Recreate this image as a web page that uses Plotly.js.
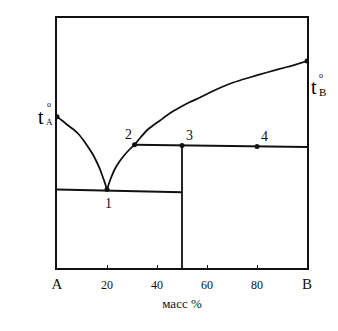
<!DOCTYPE html>
<html><head><meta charset="utf-8">
<script src="https://cdn.plot.ly/plotly-3.0.1.min.js"></script>
<style>html,body{margin:0;padding:0;background:#fff;}#c{width:338px;height:331px;}</style>
</head><body><div id="c"></div>
<script>
// Liquidus branch from t_A down to eutectic point 1
const liqA_x = [0, 2, 4.5, 6.5, 8.5, 10.5, 12.5, 14.3, 15.9, 17.3, 18.5, 19.3, 20];
const liqA_y = [60.5, 59, 57, 55.5, 53.7, 51.2, 48.3, 45.5, 42.4, 39.2, 35.9, 33.6, 31.4];
// Liquidus branch from point 1 through point 2 up to t_B
const liqB_x = [20, 21.5, 23.2, 25, 26.5, 28.7, 31, 33.5, 35.9, 38.5, 41.2, 45, 49.2, 53, 57.2, 61.2, 65.5, 70.5, 77, 83.9, 92, 100];
const liqB_y = [31.4, 35.8, 39.7, 42.6, 44.6, 47.1, 49.3, 52.3, 55, 57.1, 59, 61.8, 64.3, 66.3, 68.2, 70.2, 72.2, 74.2, 76.2, 78.2, 80.4, 82.8];
// Eutectic horizontal
const eut_x = [0, 50];
const eut_y = [31.4, 30.3];
// Peritectic horizontal
const per_x = [31, 100];
const per_y = [49.3, 48.4];
// Compound vertical
const comp_x = [50, 50];
const comp_y = [49, 0];
// Marked points
const pts_x = [0, 20, 31, 50, 80, 100];
const pts_y = [60.5, 31.4, 49.3, 49, 48.6, 82.8];
// Tick labels
const tickVals = [0, 20, 40, 60, 80, 100];
const tickText = ['<span style="font-size:15px">A</span>', '20', '40', '60', '80', '<span style="font-size:15px">B</span>'];

const ln = {color: '#111', width: 1.8};
const traces = [
  {x: liqA_x, y: liqA_y, mode: 'lines', line: Object.assign({shape: 'spline', smoothing: 0.6}, ln)},
  {x: liqB_x, y: liqB_y, mode: 'lines', line: Object.assign({shape: 'spline', smoothing: 0.6}, ln)},
  {x: eut_x, y: eut_y, mode: 'lines', line: ln},
  {x: per_x, y: per_y, mode: 'lines', line: ln},
  {x: comp_x, y: comp_y, mode: 'lines', line: ln},
  {x: pts_x, y: pts_y, mode: 'markers', marker: {color: '#111', size: 5}}
];
const serif = 'Liberation Serif, DejaVu Serif, serif';
const pann = (x, y, text, size) => ({x, y, text, showarrow: false, xref: 'paper', yref: 'paper', xanchor: 'center', yanchor: 'middle', font: {family: serif, size: size, color: '#000'}});
const ann = (x, y, text, size) => ({x, y, text, showarrow: false, xref: 'x', yref: 'y', font: {family: serif, size: size, color: '#111'}});
const layout = {
  width: 338, height: 331,
  margin: {l: 57, r: 31, t: 18, b: 63},
  paper_bgcolor: '#fff', plot_bgcolor: '#fff',
  showlegend: false,
  xaxis: {range: [0, 100], tickvals: tickVals, ticktext: tickText, ticks: 'inside', ticklen: 3,
    tickcolor: '#111', showgrid: false, zeroline: false, showline: true, mirror: true,
    linecolor: '#111', linewidth: 1.8, tickfont: {family: serif, size: 12, color: '#111'}, ticklabelstandoff: 5,
    title: {text: 'масс %', font: {family: serif, size: 13, color: '#111'}, standoff: 8}},
  yaxis: {range: [0, 100], showticklabels: false, ticks: '', showgrid: false, zeroline: false,
    showline: true, mirror: true, linecolor: '#111', linewidth: 1.8},
  annotations: [
    pann(-0.064, 0.606, 't', 20), pann(-0.034, 0.655, 'o', 8), pann(-0.032, 0.586, 'A', 9),
    pann(1.028, 0.725, 't', 20), pann(1.056, 0.771, 'o', 8), pann(1.062, 0.703, 'B', 11),
    ann(20.5, 26, '1', 14), ann(28.5, 53.5, '2', 14), ann(53, 53, '3', 14), ann(83, 52.5, '4', 14)
  ]
};
Plotly.newPlot('c', traces, layout, {staticPlot: true, displayModeBar: false});
</script></body></html>
